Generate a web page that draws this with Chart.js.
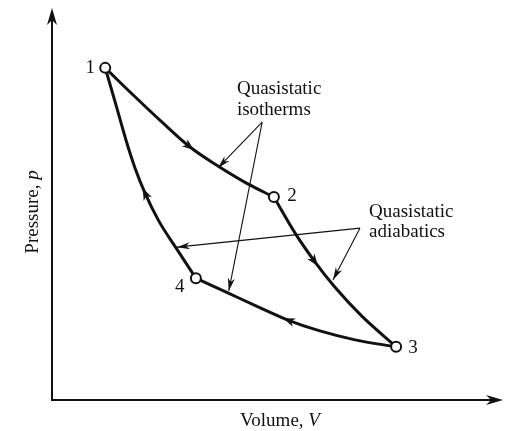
<!DOCTYPE html>
<html>
<head>
<meta charset="utf-8">
<script src="https://cdn.jsdelivr.net/npm/chart.js@4.4.0/dist/chart.umd.min.js"></script>
<style>
  html, body { margin: 0; padding: 0; background: #fff; }
  canvas { display: block; }
</style>
</head>
<body>
<canvas id="cycle" width="513" height="431"></canvas>
<script>
// -- Carnot cycle, volume / pressure in arbitrary units (0..10 on both axes)
// each curve is listed in the direction the cycle runs
const isothermHot = [
	{ x: 1.18, y: 8.56 }, { x: 1.80, y: 7.86 }, { x: 2.44, y: 7.16 },
	{ x: 3.06, y: 6.52 }, { x: 3.68, y: 6.03 }, { x: 4.31, y: 5.59 },
	{ x: 4.92, y: 5.23 },
];
const adiabaticOut = [
	{ x: 4.92, y: 5.23 }, { x: 5.39, y: 4.30 }, { x: 5.83, y: 3.56 },
	{ x: 6.27, y: 2.91 }, { x: 6.87, y: 2.16 }, { x: 7.63, y: 1.37 },
];
const isothermCold = [
	{ x: 7.63, y: 1.37 }, { x: 6.72, y: 1.55 }, { x: 5.94, y: 1.78 },
	{ x: 5.23, y: 2.06 }, { x: 4.57, y: 2.40 }, { x: 3.90, y: 2.76 },
	{ x: 3.19, y: 3.14 },
];
const adiabaticIn = [
	{ x: 3.19, y: 3.14 }, { x: 2.75, y: 3.92 }, { x: 2.37, y: 4.61 },
	{ x: 2.06, y: 5.34 }, { x: 1.84, y: 5.98 }, { x: 1.64, y: 6.70 },
	{ x: 1.42, y: 7.60 }, { x: 1.18, y: 8.56 },
];
const statePoints = [
	{ x: 1.18, y: 8.56 }, { x: 4.92, y: 5.23 }, { x: 7.63, y: 1.37 }, { x: 3.19, y: 3.14 },
];
const stateLabels = ['1', '2', '3', '4'];
// index of the point on each curve that carries the flow arrow
const flowArrowAt = [3, 2, 3, 3];

const isothermNote = ['Quasistatic', 'isotherms'];
const adiabaticNote = ['Quasistatic', 'adiabatics'];
// leader lines: common start, then the tips on the curves
const isothermLeaders = [{ x: 4.66, y: 7.16 }, { x: 3.68, y: 5.98 }, { x: 3.92, y: 2.81 }];
const adiabaticLeaders = [{ x: 6.83, y: 4.43 }, { x: 2.77, y: 3.94 }, { x: 6.23, y: 3.09 }];

const ink = '#111';
const serif = "'Liberation Serif', 'DejaVu Serif', serif";

function head(ctx, x0, y0, x1, y1, len, half) {
	const ang = Math.atan2(y1 - y0, x1 - x0);
	ctx.save();
	ctx.translate(x1, y1);
	ctx.rotate(ang);
	ctx.beginPath();
	ctx.moveTo(0, 0);
	ctx.lineTo(-len, -half);
	ctx.lineTo(-len * 0.7, 0);
	ctx.lineTo(-len, half);
	ctx.closePath();
	ctx.fill();
	ctx.restore();
}

// text with an italic tail, e.g. "Volume, " + "V"
function mixedText(ctx, plain, ital, cx, cy) {
	ctx.font = `19px ${serif}`;
	const w1 = ctx.measureText(plain).width;
	ctx.font = `italic 19px ${serif}`;
	const w2 = ctx.measureText(ital).width;
	const x0 = cx - (w1 + w2) / 2;
	ctx.textAlign = 'left';
	ctx.textBaseline = 'middle';
	ctx.font = `19px ${serif}`;
	ctx.fillText(plain, x0, cy);
	ctx.font = `italic 19px ${serif}`;
	ctx.fillText(ital, x0 + w1, cy);
}

const cycleDecor = {
	id: 'cycleDecor',
	afterDatasetsDraw(chart) {
		const { ctx, chartArea: a, scales } = chart;
		const px = (p) => ({ x: scales.x.getPixelForValue(p.x), y: scales.y.getPixelForValue(p.y) });
		ctx.save();
		ctx.strokeStyle = ink;
		ctx.fillStyle = ink;

		// axes with arrow heads
		ctx.lineWidth = 2;
		ctx.beginPath();
		ctx.moveTo(a.left, a.top);
		ctx.lineTo(a.left, a.bottom);
		ctx.lineTo(a.right - 6, a.bottom);
		ctx.stroke();
		head(ctx, a.left, a.bottom, a.left, a.top - 4, 17, 5);
		head(ctx, a.left, a.bottom, a.right, a.bottom, 17, 5);

		// flow arrows on the curves
		flowArrowAt.forEach((idx, i) => {
			const meta = chart.getDatasetMeta(i + 1);
			const p = meta.data[idx];
			const prev = meta.data[idx - 1];
			const next = meta.data[idx + 1];
			let dx = next.x - prev.x;
			let dy = next.y - prev.y;
			const n = Math.hypot(dx, dy);
			dx /= n; dy /= n;
			head(ctx, p.x - dx, p.y - dy, p.x + dx * 5, p.y + dy * 5, 12, 4.5);
		});

		// leader lines
		ctx.lineWidth = 1.1;
		[isothermLeaders, adiabaticLeaders].forEach((set) => {
			const s = px(set[0]);
			set.slice(1).forEach((t) => {
				const e = px(t);
				ctx.beginPath();
				ctx.moveTo(s.x, s.y);
				ctx.lineTo(e.x, e.y);
				ctx.stroke();
				head(ctx, s.x, s.y, e.x, e.y, 13, 3.5);
			});
		});

		// notes
		ctx.font = `19px ${serif}`;
		ctx.textAlign = 'left';
		ctx.textBaseline = 'middle';
		const n1 = px({ x: 4.10, y: 8.02 });
		isothermNote.forEach((t, i) => ctx.fillText(t, n1.x, n1.y + i * 21));
		const n2 = px({ x: 7.03, y: 4.85 });
		adiabaticNote.forEach((t, i) => ctx.fillText(t, n2.x, n2.y + i * 20));

		// state numbers
		const offs = [[-15, 0], [18, -1], [17, 1], [-16, 9]];
		ctx.textAlign = 'center';
		statePoints.forEach((p, i) => {
			const q = px(p);
			ctx.fillText(stateLabels[i], q.x + offs[i][0], q.y + offs[i][1]);
		});

		// axis titles
		mixedText(ctx, 'Volume, ', 'V', 280, a.bottom + 21);
		ctx.save();
		ctx.translate(33, 212);
		ctx.rotate(-Math.PI / 2);
		mixedText(ctx, 'Pressure, ', 'p', 0, 0);
		ctx.restore();

		ctx.restore();
	},
};

const curve = (data) => ({
	data,
	showLine: true,
	borderColor: ink,
	borderWidth: 3,
	cubicInterpolationMode: 'monotone',
	pointRadius: 0,
	fill: false,
	borderCapStyle: 'round',
});

new Chart(document.getElementById('cycle'), {
	type: 'scatter',
	data: {
		datasets: [
			{
				data: statePoints,
				showLine: false,
				pointRadius: 5,
				pointBorderWidth: 2,
				pointBackgroundColor: '#fff',
				pointBorderColor: ink,
			},
			curve(isothermHot),
			curve(adiabaticOut),
			curve(isothermCold),
			curve(adiabaticIn),
		],
	},
	options: {
		responsive: false,
		animation: false,
		layout: { padding: { left: 52, right: 10, top: 12, bottom: 31 } },
		plugins: { legend: { display: false }, tooltip: { enabled: false } },
		scales: {
			x: { type: 'linear', min: 0, max: 10, display: false },
			y: { type: 'linear', min: 0, max: 10, display: false },
		},
	},
	plugins: [cycleDecor],
});
</script>
</body>
</html>
